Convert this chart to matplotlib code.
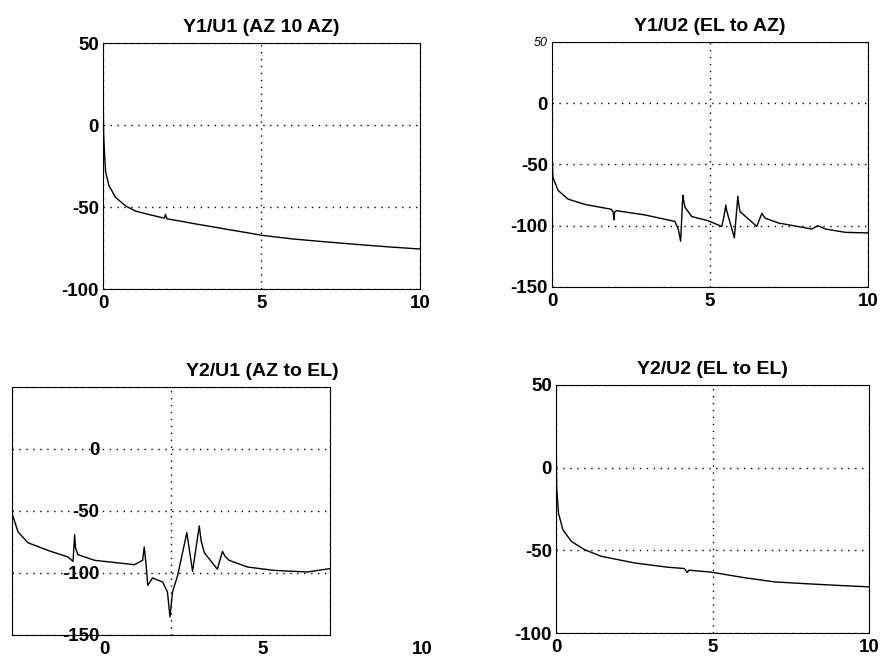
import matplotlib
matplotlib.use("Agg")
import matplotlib.pyplot as plt
import matplotlib.transforms as mtransforms

plt.rcParams['font.family'] = ['Liberation Sans', 'DejaVu Sans']

# ***data (frequency vs gain)
titles = ['Y1/U1 (AZ 10 AZ)', 'Y1/U2 (EL to AZ)', 'Y2/U1 (AZ to EL)', 'Y2/U2 (EL to EL)']
x_ticks = [0, 5, 10]

# Y1/U1
f11 = [0.0, 0.005, 0.02, 0.05, 0.085, 0.19, 0.4, 0.72, 1.03, 1.5, 1.87, 1.94, 1.97, 2.02,
       2.5, 2.92, 3.5, 3.97, 4.5, 5.03, 6.0, 7.0, 8.0, 9.0, 10.0]
g11 = [50, 20, -5, -18, -28.8, -37, -44.2, -49.4, -52.5, -54.8, -56.5, -56.8, -54.5, -57.2,
       -58.8, -60.3, -62.2, -63.8, -65.5, -67.3, -69.5, -71.2, -72.8, -74.3, -75.6]
# Y1/U2
f12 = [0.0, 0.005, 0.03, 0.19, 0.51, 1.04, 1.88, 1.94, 1.96, 1.98, 2.04, 2.94, 3.89, 4.0,
       4.07, 4.14, 4.17, 4.21, 4.42, 4.95, 5.37, 5.44, 5.5, 5.53, 5.58, 5.77, 5.88, 5.91, 5.95,
       6.48, 6.64, 6.68, 6.74, 7.17, 8.22, 8.41, 8.65, 9.28, 10.0]
g12 = [-28, -45, -60.4, -71.1, -78.3, -82.6, -86.6, -89, -95.2, -89, -87.7, -91.2, -96.5, -103.2,
       -112.6, -75.1, -80, -85, -92.5, -96, -100.6, -92.5, -83.1, -88, -92.5, -109.9, -75.9, -83, -88.5,
       -100.6, -89.8, -91.5, -93.8, -97.8, -102.7, -100, -102.7, -105.4, -105.9]
# Y2/U1
f21 = [0.0, 0.02, 0.19, 0.5, 1.13, 1.76, 1.92, 1.97, 2.0, 2.07, 2.6, 3.85, 4.11, 4.16, 4.22, 4.27,
       4.42, 4.74, 4.89, 4.97, 5.05, 5.21, 5.5, 5.68, 5.89, 5.95, 6.05, 6.46, 6.62, 6.7, 6.83, 7.41,
       8.24, 9.29, 10.0]
g21 = [-51, -53.5, -66.9, -75.6, -81.8, -87.1, -90.6, -69.1, -80, -85.2, -89.8, -93.3, -89.8, -79, -93.9,
       -110, -104, -107.3, -115.3, -135.5, -115.3, -102, -67.5, -98.7, -62.1, -74, -83.6, -97, -82.6, -86.5,
       -89.8, -95.2, -97.9, -99.2, -96.5]
# Y2/U2
f22 = [0.0, 0.005, 0.02, 0.08, 0.22, 0.49, 0.91, 1.44, 2.5, 3.56, 4.1, 4.19, 4.25, 4.96,
       6.0, 6.98, 8.0, 8.9, 10.0]
g22 = [50, 15, -12, -27.6, -37.6, -44.6, -49.6, -53.6, -57.6, -60.2, -61, -63.4, -62, -63.2,
       -66.5, -69.1, -70.2, -71.1, -72.1]

y_ticks = [[-100, -50, 0, 50], [-150, -100, -50, 0, 50], [-150, -100, -50, 0, 50], [-100, -50, 0, 50]]
y_labels = [['-100', '-50', '0', '50'], ['-150', '-100', '-50', '0', '50'],
            ['-150', '-100', '-50', '0', ''], ['-100', '-50', '0', '50']]
curves = [(f11, g11), (f12, g12), (f21, g21), (f22, g22)]

# ***figure
fig = plt.figure(figsize=(8.83, 6.6), dpi=100)
boxes = [[0.1166, 0.5621, 0.359, 0.3727],
         [0.6251, 0.5652, 0.358, 0.3712],
         [0.0136, 0.0379, 0.360, 0.3758],
         [0.6297, 0.0409, 0.3545, 0.3758]]

axes = []
for i in range(4):
    ax = fig.add_axes(boxes[i])
    f, g = curves[i]
    ax.plot(f, g, color='black', linewidth=1.0)
    ax.set_xlim(0, 10)
    ax.set_ylim(y_ticks[i][0], y_ticks[i][-1])
    ax.set_xticks(x_ticks)
    ax.set_xticklabels([str(t) for t in x_ticks])
    ax.set_yticks(y_ticks[i])
    ax.set_yticklabels(y_labels[i])
    ax.grid(True, color='black', linestyle=(0, (1, 4)), linewidth=1.0)
    ax.tick_params(length=0, labelsize=13.5)
    ax.tick_params(axis='x', pad=4)
    ax.tick_params(axis='y', pad=3)
    for lab in ax.get_xticklabels() + ax.get_yticklabels():
        lab.set_fontweight('bold')
    for sp in ax.spines.values():
        sp.set_linewidth(0.8)
        sp.set_color('black')
    ax.set_title(titles[i], fontsize=14, fontweight='bold', pad=8)
    axes.append(ax)

# the "50" on Y1/U2 is printed small and italic
top_lab = axes[1].get_yticklabels()[-1]
top_lab.set_fontsize(9)
top_lab.set_fontstyle('italic')
top_lab.set_fontweight('normal')

# Y2/U1: the frame sits left of its labels in the scan
ax = axes[2]
ax.tick_params(axis='y', pad=-63)
shift = mtransforms.ScaledTranslation(0.92, 0, fig.dpi_scale_trans)
for lab in ax.get_xticklabels():
    lab.set_transform(lab.get_transform() + shift)
ax.set_title(titles[2], fontsize=14, fontweight='bold', pad=8, x=0.786)

fig.savefig("out.png", dpi=100)
